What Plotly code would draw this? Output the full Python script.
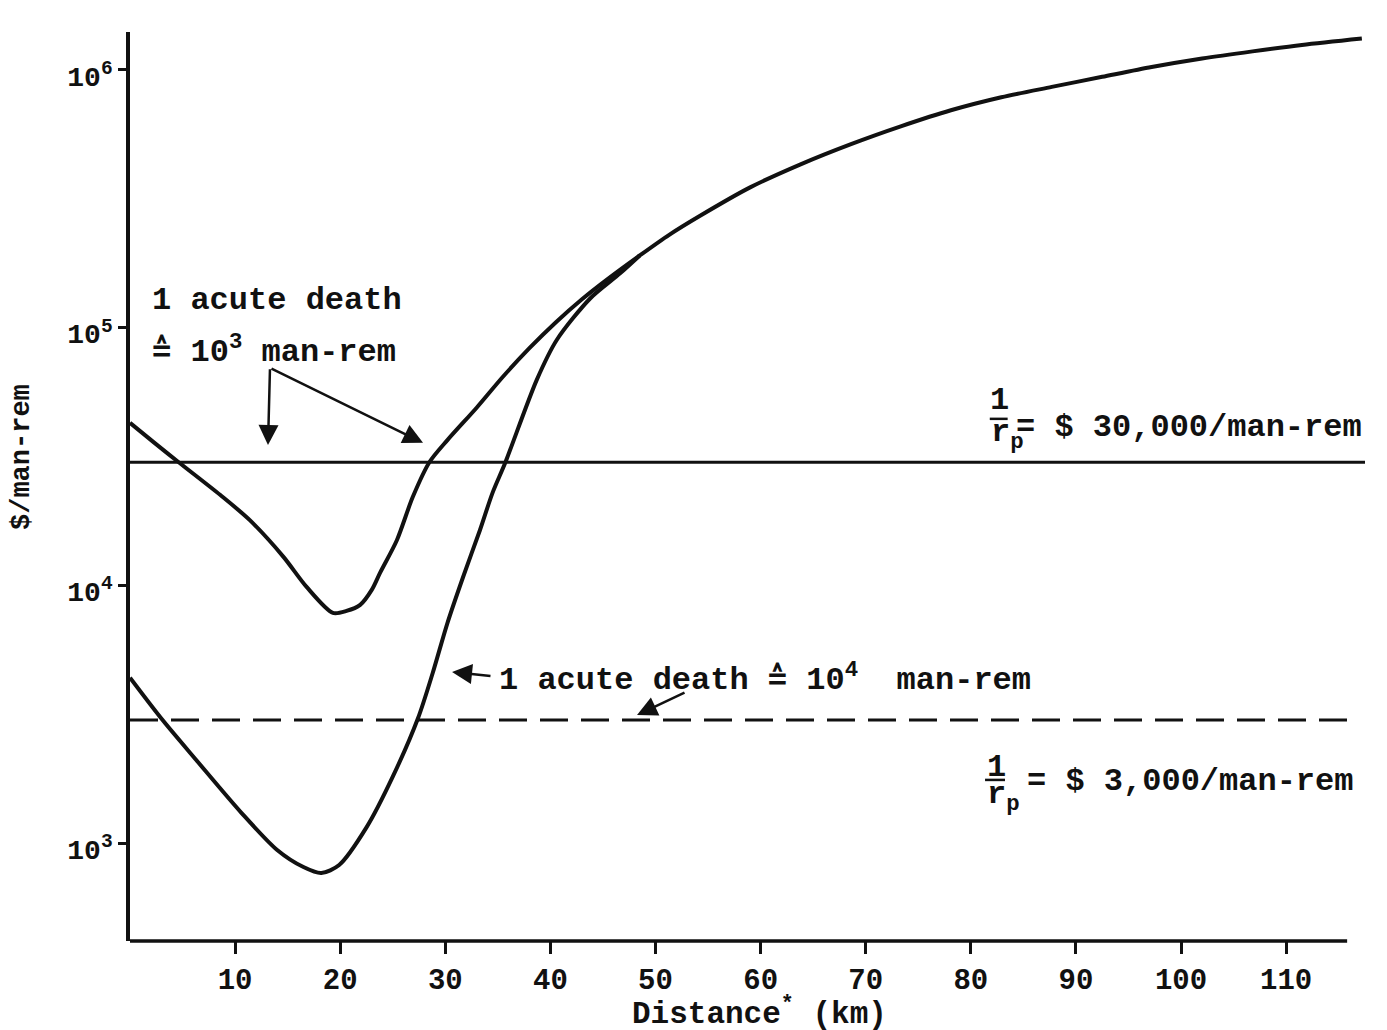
import plotly.graph_objects as go

# ---------------- data ----------------
dist_upper = [0, 2.3, 4.6, 8.6, 11.4, 14.6, 16.8, 19.3, 20.6, 21.9, 23.0, 23.8, 25.4, 26.9,
              28.5, 30.2, 33.0, 35.5, 38.0, 40.5, 43.0, 45.5, 48.5, 51.3, 54.2, 59.0, 63.8,
              68.6, 73.4, 78.1, 82.9, 87.7, 92.5, 97.2, 102.0, 106.8, 111.5, 117.2]
cost_upper = [42700, 35800, 30100, 22400, 17900, 12900, 9860, 7820, 7960, 8400, 9600, 11200,
              15000, 22000, 30100, 36600, 49000, 64600, 83200, 104700, 128800, 154900,
              190500, 229100, 271000, 350000, 430000, 515000, 605000, 697000, 783000,
              859000, 940000, 1026000, 1107000, 1180000, 1250000, 1324000]

dist_lower = [0, 3.1, 6.3, 10.6, 14.0, 16.5, 18.2, 19.9, 22.5, 25.0, 27.4, 28.8, 30.2, 31.7,
              33.3, 34.5, 35.7, 38.7, 40.6, 43.8, 46.6, 48.5]
cost_lower = [4380, 3000, 2100, 1310, 940, 807, 765, 822, 1150, 1810, 3050, 4570, 7140, 10800,
              16400, 22900, 29900, 62700, 89500, 130000, 162000, 190500]

thresholds = [30000, 3000]          # 1/r_p values ($/man-rem)
x_ticks = [10, 20, 30, 40, 50, 60, 70, 80, 90, 100, 110]
y_ticks = [1e3, 1e4, 1e5, 1e6]
y_ticktext = ["10<sup>3</sup>", "10<sup>4</sup>", "10<sup>5</sup>", "10<sup>6</sup>"]

FONT = "Liberation Mono, Courier New, monospace"
INK = "#111111"

fig = go.Figure()
fig.add_trace(go.Scatter(x=dist_upper, y=cost_upper, mode="lines",
                         line=dict(color=INK, width=4, shape="spline", smoothing=0.8),
                         showlegend=False, hoverinfo="skip"))
fig.add_trace(go.Scatter(x=dist_lower, y=cost_lower, mode="lines",
                         line=dict(color=INK, width=4, shape="spline", smoothing=0.8),
                         showlegend=False, hoverinfo="skip"))

# horizontal threshold lines
fig.add_shape(type="line", xref="x", yref="y", x0=0, x1=117.5, y0=thresholds[0], y1=thresholds[0],
              line=dict(color=INK, width=3))
fig.add_shape(type="line", xref="x", yref="y", x0=0, x1=117.0, y0=thresholds[1], y1=thresholds[1],
              line=dict(color=INK, width=3, dash="28px,13px"))
# x axis line (shorter than plot area)
fig.add_shape(type="line", xref="x", yref="paper", x0=0, x1=115.8, y0=0, y1=0,
              line=dict(color=INK, width=3.5))

ann = []
def text(x, y, s, size=32, xanchor="left", yanchor="middle", **kw):
    ann.append(dict(x=x, y=y, xref="x", yref="y", text=s, showarrow=False,
                    xanchor=xanchor, yanchor=yanchor,
                    font=dict(family=FONT, size=size, color=INK, weight="bold"), **kw))

def arrow(tx, ty, ax, ay):
    ann.append(dict(x=tx, y=ty, xref="x", yref="y", ax=ax, ay=ay, axref="x", ayref="y",
                    text="", showarrow=True, arrowhead=2, arrowsize=1.6, arrowwidth=2.5,
                    arrowcolor=INK, standoff=0, startstandoff=0))

text(1.9, 5.107, "1 acute death")
text(1.9, 4.913, "≙ 10<sup>3</sup> man-rem")
arrow(13.13, 4.545, 13.32, 4.844)
arrow(27.88, 4.553, 13.32, 4.844)

text(34.9, 3.641, "1 acute death ≙ 10<sup>4</sup>  man-rem")
arrow(30.64, 3.664, 34.44, 3.648)
arrow(48.24, 3.497, 52.90, 3.586)

# 1/r_p = $30,000
text(82.69, 4.716, "1", xanchor="center")
fig.add_shape(type="line", xref="x", yref="y", x0=81.8, x1=83.5, y0=10**4.646, y1=10**4.646,
              line=dict(color=INK, width=2.5))
text(81.7, 4.584, "r<sub>p</sub>")
text(84.1, 4.612, "= $ 30,000/man-rem")

# 1/r_p = $3,000
text(82.40, 3.295, "1", xanchor="center")
fig.add_shape(type="line", xref="x", yref="y", x0=81.35, x1=83.25, y0=10**3.245, y1=10**3.245,
              line=dict(color=INK, width=2.5))
text(81.3, 3.179, "r<sub>p</sub>")
text(85.16, 3.237, "= $ 3,000/man-rem")

# axis titles
ann.append(dict(x=-0.0874, y=0.5325, xref="paper", yref="paper", text="$/man-rem",
                textangle=-90, showarrow=False, xanchor="center", yanchor="middle",
                font=dict(family=FONT, size=27, color=INK, weight="bold")))
ann.append(dict(x=0.4049, y=-0.078, xref="paper", yref="paper",
                text="Distance<sup>*</sup> (km)", showarrow=False,
                xanchor="left", yanchor="middle",
                font=dict(family=FONT, size=31, color=INK, weight="bold")))

fig.update_layout(
    width=1387, height=1030,
    margin=dict(l=130, r=22, t=32, b=89),
    paper_bgcolor="white", plot_bgcolor="white",
    annotations=ann,
    showlegend=False,
    xaxis=dict(range=[0, 117.5], tickvals=x_ticks, ticks="outside", ticklen=12, tickwidth=2.5,
               tickcolor=INK, showgrid=False, zeroline=False, showline=False,
               tickfont=dict(family=FONT, size=29, color=INK, weight="bold")),
    yaxis=dict(type="log", range=[2.620, 6.147], tickvals=y_ticks, ticktext=y_ticktext,
               ticks="outside", ticklen=8, tickwidth=2.5, tickcolor=INK, showgrid=False,
               zeroline=False, showline=True, linecolor=INK, linewidth=3.5,
               ticklabelshift=6,
               tickfont=dict(family=FONT, size=28, color=INK, weight="bold")),
)

fig.write_html("out.html")
